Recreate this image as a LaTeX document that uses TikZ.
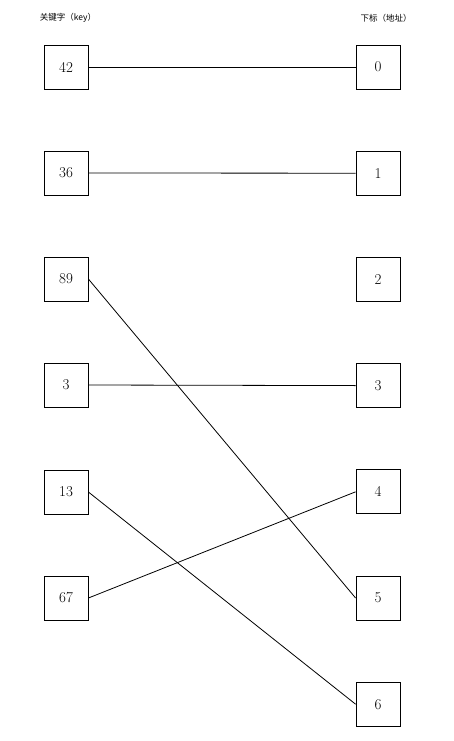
\documentclass[tikz,border=0pt]{standalone}
\usepackage{fontspec}
\newfontfamily\cjk{Noto Sans CJK SC}
\usetikzlibrary{positioning}

\begin{document}
\begin{tikzpicture}[
    x=1pt, y=-1pt,
    box/.style={draw, line width=0.8pt, minimum size=44pt, inner sep=0pt, font=\fontsize{15}{16}\selectfont},
    title/.style={font=\cjk\fontsize{8.5}{10}\selectfont, inner sep=0pt}
]
\useasboundingbox (0,0) rectangle (454,741);

% headers
\node[title] (keyhead) at (68,18) {关键字（key）};
\node[title] (idxhead) at (386,18) {下标（地址）};

% keys
\node[box] (k42) at (66,67) {42};
\node[box] (k36) at (66,173) {36};
\node[box] (k89) at (66,279) {89};
\node[box] (k3)  at (66,385) {3};
\node[box] (k13) at (66,492) {13};
\node[box] (k67) at (66,598) {67};

% addresses
\foreach \i in {0,...,6}
    \node[box] (a\i) at (378,67+106.2*\i) {\i};

% mapping
\draw[line width=0.8pt] (k42.east) -- (a0.west);
\draw[line width=0.8pt] (k36.east) -- (a1.west);
\draw[line width=0.8pt] (k89.east) -- (a5.west);
\draw[line width=0.8pt] (k3.east) -- (a3.west);
\draw[line width=0.8pt] (k13.east) -- (a6.west);
\draw[line width=0.8pt] (k67.east) -- (a4.west);

\end{tikzpicture}
\end{document}
